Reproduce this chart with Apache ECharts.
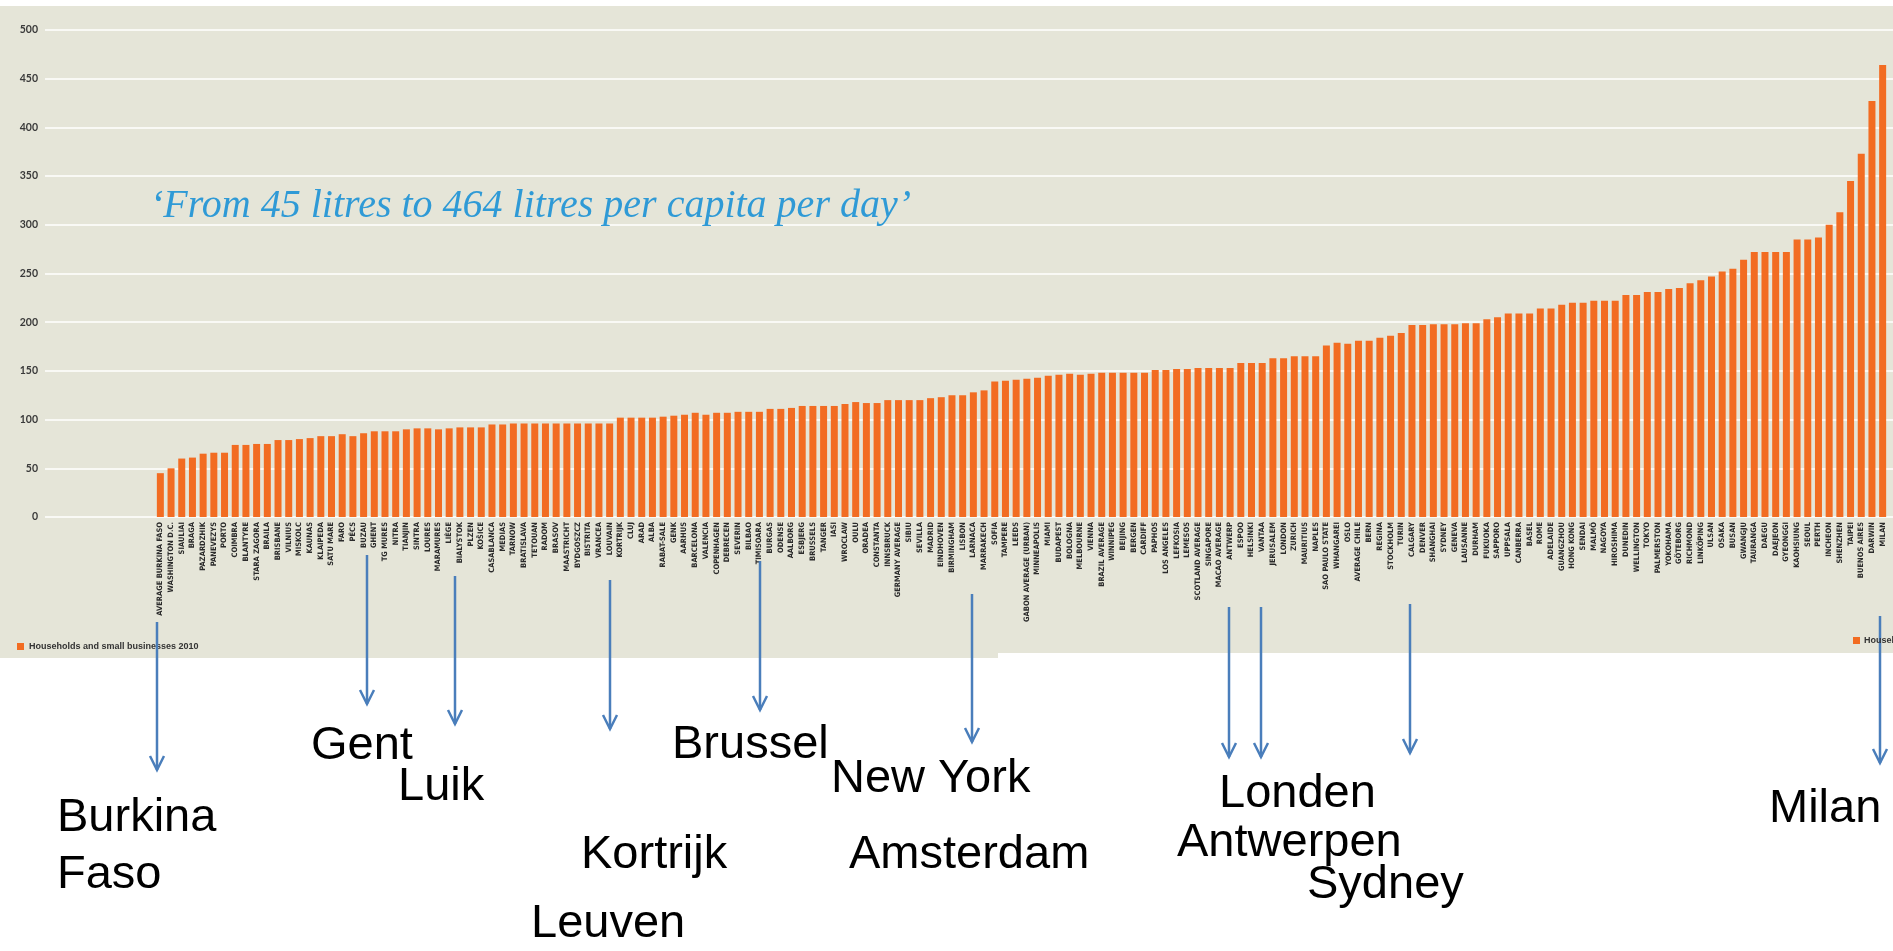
<!DOCTYPE html>
<html>
<head>
<meta charset="utf-8">
<script src="https://cdn.jsdelivr.net/npm/echarts@6.0.0/dist/echarts.min.js"></script>
<style>
  html, body { margin: 0; background: #fff; }
  #wrap { position: relative; width: 1893px; height: 951px; overflow: hidden; }
  .panel { position: absolute; background: #E5E5D8; }
  #chart { position: absolute; left: 0; top: 0; width: 1893px; height: 951px; }
</style>
</head>
<body>
<div id="wrap">
  <div class="panel" style="left:0;top:6px;width:998px;height:652px"></div>
  <div class="panel" style="left:998px;top:6px;width:895px;height:647px"></div>
  <div id="chart"></div>
</div>
<script>
// left half of the source chart (litres per capita per day)
const leftCities = [
  'AVERAGE BURKINA FASO', 'WASHINGTON D.C.', 'SIAULIAI', 'BRAGA', 'PAZARDZHIK', 'PANEVEZYS', 'PORTO',
  'COIMBRA', 'BLANTYRE', 'STARA ZAGORA', 'BRAILA', 'BRISBANE', 'VILNIUS', 'MISKOLC', 'KAUNAS',
  'KLAIPEDA', 'SATU MARE', 'FARO', 'PÉCS', 'BUZAU', 'GHENT', 'TG MURES', 'NITRA', 'TIANJIN', 'SINTRA',
  'LOURES', 'MARAMURES', 'LIÈGE', 'BIALYSTOK', 'PLZEN', 'KOŠICE', 'CASABLANCA', 'MEDIAS', 'TARNOW',
  'BRATISLAVA', 'TETOUAN', 'RADOM', 'BRASOV', 'MAASTRICHT', 'BYDGOSZCZ', 'BISTRITA', 'VRANCEA',
  'LOUVAIN', 'KORTRIJK', 'CLUJ', 'ARAD', 'ALBA', 'RABAT-SALE', 'GENK', 'AARHUS', 'BARCELONA',
  'VALENCIA', 'COPENHAGEN', 'DEBRECEN', 'SEVERIN', 'BILBAO', 'TIMISOARA', 'BURGAS', 'ODENSE',
  'AALBORG', 'ESBJERG', 'BRUSSELS', 'TANGER', 'IASI', 'WROCLAW', 'OULU', 'ORADEA', 'CONSTANTA',
  'INNSBRUCK', 'GERMANY AVERAGE', 'SIBIU', 'SEVILLA', 'MADRID', 'EINDHOVEN', 'BIRMINGHAM', 'LISBON',
  'LARNACA', 'MARRAKECH'
]
const leftLitres = [
  45, 50, 60, 61, 65, 66, 66,
  74, 74, 75, 75, 79, 79, 80, 81,
  83, 83, 85, 83, 86, 88, 88, 88, 90, 91,
  91, 90, 91, 92, 92, 92, 95, 95, 96,
  96, 96, 96, 96, 96, 96, 96, 96,
  96, 102, 102, 102, 102, 103, 104, 105, 107,
  105, 107, 107, 108, 108, 108, 111, 111,
  112, 114, 114, 114, 114, 116, 118, 117, 117,
  120, 120, 120, 120, 122, 123, 125, 125,
  128, 130
]
// right half
const rightCities = [
  'SOFIA', 'TAMPERE', 'LEEDS', 'GABON AVERAGE (URBAN)', 'MINNEAPOLIS', 'MIAMI', 'BUDAPEST', 'BOLOGNA',
  'MELBOURNE', 'VIENNA', 'BRAZIL AVERAGE', 'WINNIPEG', 'BEIJING', 'BERGEN', 'CARDIFF', 'PAPHOS',
  'LOS ANGELES', 'LEFKOSIA', 'LEMESOS', 'SCOTLAND AVERAGE', 'SINGAPORE', 'MACAO AVERAGE', 'ANTWERP',
  'ESPOO', 'HELSINKI', 'VANTAA', 'JERUSALEM', 'LONDON', 'ZURICH', 'MAURITIUS', 'NAPLES',
  'SAO PAULO STATE', 'WHANGAREI', 'OSLO', 'AVERAGE CHILE', 'BERN', 'REGINA', 'STOCKHOLM', 'TURIN',
  'CALGARY', 'DENVER', 'SHANGHAI', 'SYDNEY', 'GENEVA', 'LAUSANNE', 'DURHAM', 'FUKUOKA', 'SAPPORO',
  'UPPSALA', 'CANBERRA', 'BASEL', 'ROME', 'ADELAIDE', 'GUANGZHOU', 'HONG KONG', 'SENDAI', 'MALMÖ',
  'NAGOYA', 'HIROSHIMA', 'DUNEDIN', 'WELLINGTON', 'TOKYO', 'PALMERSTON', 'YOKOHAMA', 'GÖTEBORG',
  'RICHMOND', 'LINKÖPING', 'ULSAN', 'OSAKA', 'BUSAN', 'GWANGJU', 'TAURANGA', 'DAEGU', 'DAEJEON',
  'GYEONGGI', 'KAOHSIUNG', 'SEOUL', 'PERTH', 'INCHEON', 'SHENZHEN', 'TAIPEI', 'BUENOS AIRES',
  'DARWIN', 'MILAN'
]
const rightLitres = [
  139, 140, 141, 142, 143, 145, 146, 147,
  146, 147, 148, 148, 148, 148, 148, 151,
  151, 152, 152, 153, 153, 153, 153,
  158, 158, 158, 163, 163, 165, 165, 165,
  176, 179, 178, 181, 181, 184, 186, 189,
  197, 197, 198, 198, 198, 199, 199, 203, 205,
  209, 209, 209, 214, 214, 218, 220, 220, 222,
  222, 222, 228, 228, 231, 231, 234, 235,
  240, 243, 247, 252, 255, 264, 272, 272, 272,
  272, 285, 285, 287, 300, 313, 345, 373,
  427, 464
]
const cities = leftCities.concat(rightCities)
const litres = leftLitres.concat(rightLitres)

const ORANGE = '#F26C22'
const BLUE = '#4A7EBB'

// annotation arrows: x, y start, y tip (page pixels)
const arrows = [
  [157, 622, 770], [367, 555, 704], [455, 576, 724], [610, 580, 729], [760, 561, 710],
  [972, 594, 742], [1229, 607, 757], [1261, 607, 757], [1410, 604, 753], [1880, 616, 763],
]
const notes = [
  ['Burkina', 57, 818], ['Faso', 57, 875], ['Gent', 311, 746], ['Luik', 398, 787],
  ['Kortrijk', 581, 855], ['Leuven', 531, 924], ['Brussel', 672, 745], ['New York', 831, 779],
  ['Amsterdam', 849, 855], ['Londen', 1219, 794], ['Antwerpen', 1177, 843], ['Sydney', 1307, 885],
  ['Milan', 1769, 809],
]

const graphic = []
arrows.forEach(([x, y1, y2]) => {
  graphic.push({ type: 'line', z: 20, shape: { x1: x, y1, x2: x, y2 },
    style: { stroke: BLUE, lineWidth: 2.5 } })
  graphic.push({ type: 'polyline', z: 20,
    shape: { points: [[x - 7, y2 - 14], [x, y2], [x + 7, y2 - 14]] },
    style: { stroke: BLUE, lineWidth: 2.5, fill: null } })
})
notes.forEach(([t, x, y]) => graphic.push({ type: 'text', z: 20, x, y,
  style: { text: t, fill: '#000', font: '47px "Liberation Sans", Arial, sans-serif', verticalAlign: 'middle' } }))
graphic.push({ type: 'text', z: 20, x: 150, y: 206,
  style: { text: '‘From 45 litres to 464 litres per capita per day’', fill: '#2F9AD6',
    font: 'italic 40px "Liberation Serif", serif', verticalAlign: 'middle' } })
// cut-off legend of the right-hand panel
graphic.push({ type: 'rect', z: 20, shape: { x: 1853, y: 637, width: 7, height: 7 }, style: { fill: ORANGE } })
graphic.push({ type: 'text', z: 20, x: 1864, y: 641,
  style: { text: 'Households and small businesses 2010', fill: '#333',
    font: 'bold 9px "Liberation Sans", sans-serif', verticalAlign: 'middle' } })

const chart = echarts.init(document.getElementById('chart'))
chart.setOption({
  animation: false,
  backgroundColor: 'transparent',
  grid: [
    { left: 45, right: 0, top: 30, height: 487 },
    { left: 155, right: 5, top: 30, height: 487 },
  ],
  legend: {
    left: 12, top: 637, itemWidth: 7, itemHeight: 7, icon: 'rect',
    textStyle: { fontSize: 9, color: '#333', fontWeight: 'bold', fontFamily: 'Liberation Sans' },
    data: ['Households and small businesses 2010'],
  },
  xAxis: [
    { type: 'category', gridIndex: 0, data: [''], show: false },
    { type: 'category', gridIndex: 1, data: cities,
      axisLine: { show: false }, axisTick: { show: false },
      axisLabel: { interval: 0, rotate: 90, margin: 5, fontSize: 7.5, fontWeight: 'bold',
        fontFamily: '"Liberation Sans Narrow", "DejaVu Sans Condensed", sans-serif', color: '#2b2b2b' } },
  ],
  yAxis: [
    { type: 'value', gridIndex: 0, min: 0, max: 500, interval: 50,
      axisLine: { show: false }, axisTick: { show: false },
      axisLabel: { margin: 7, fontSize: 10.5, fontWeight: 'bold', color: '#3a3a3a', fontFamily: 'Lato' },
      splitLine: { lineStyle: { color: '#ffffff', width: 1.5 } } },
    { type: 'value', gridIndex: 1, min: 0, max: 500, interval: 50, show: false,
      splitLine: { show: false } },
  ],
  graphic,
  series: [{
    name: 'Households and small businesses 2010', type: 'bar',
    xAxisIndex: 1, yAxisIndex: 1, data: litres, barWidth: 7,
    itemStyle: { color: ORANGE },
  }],
})
</script>
</body>
</html>
